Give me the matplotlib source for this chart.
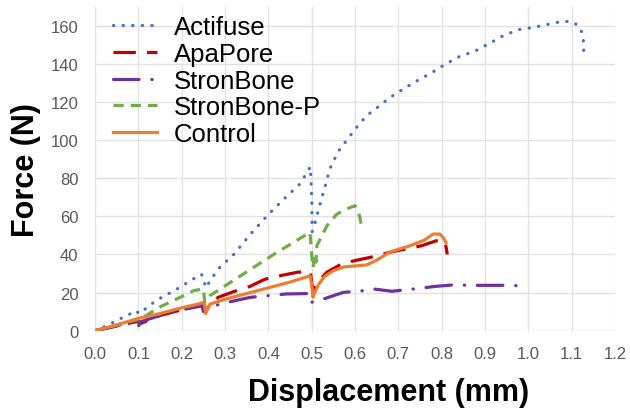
import matplotlib.pyplot as plt

plt.rcParams['font.family'] = ['Liberation Sans', 'DejaVu Sans']

# Force-displacement curves
act_d = [0, 0.03, 0.06, 0.096, 0.1, 0.105, 0.14, 0.19, 0.245, 0.25, 0.255, 0.284, 0.32,
         0.36, 0.4, 0.44, 0.473, 0.497, 0.5, 0.501, 0.505, 0.51, 0.515, 0.53, 0.542, 0.561,
         0.581, 0.604, 0.627, 0.654, 0.681, 0.711, 0.742, 0.777, 0.808, 0.842, 0.877, 0.912,
         0.942, 0.977, 1.012, 1.042, 1.077, 1.1, 1.115, 1.125, 1.128, 1.128]
act_f = [0, 3, 6.5, 10.5, 9, 9.5, 15.7, 22, 29.7, 28, 22.5, 32.4, 40,
         51, 61, 70, 77, 86, 70, 52, 55, 58, 63, 75, 85, 94,
         100, 106.8, 112.9, 117.6, 122.4, 126.8, 131, 135.4, 139.8, 144, 146.7, 151,
         154.8, 158, 159.2, 160.6, 162.3, 162.3, 160.2, 156.2, 151, 146.4]

apa_d = [0, 0.05, 0.1, 0.102, 0.15, 0.2, 0.245, 0.25, 0.255, 0.284, 0.32, 0.358, 0.392,
         0.43, 0.468, 0.497, 0.5, 0.503, 0.508, 0.52, 0.535, 0.569, 0.6, 0.646, 0.685,
         0.72, 0.754, 0.785, 0.8, 0.808, 0.811, 0.813]
apa_f = [0, 2.5, 5, 3.5, 8, 11, 13.5, 12, 11, 17.5, 20.5, 23.3, 27,
         29, 30.7, 31, 25, 21, 23.4, 27, 30.7, 35, 36.8, 39, 41.4,
         43, 44.6, 47, 48, 46, 43, 40]

sb_d = [0, 0.05, 0.097, 0.1, 0.103, 0.15, 0.2, 0.247, 0.25, 0.255, 0.288, 0.358, 0.4,
        0.442, 0.496, 0.5, 0.503, 0.527, 0.573, 0.62, 0.646, 0.685, 0.72, 0.788, 0.825,
        0.868, 0.945, 0.976]
sb_f = [0, 2.5, 5.5, 2, 4.5, 8, 11, 13, 10, 11, 14, 17.5, 18.4,
        19.3, 19.5, 14.9, 15.2, 16.6, 20.1, 21, 21.8, 20.7, 21.5, 23.3, 24,
        23.8, 23.8, 23.6]

sbp_d = [0, 0.05, 0.104, 0.15, 0.212, 0.227, 0.25, 0.253, 0.265, 0.342, 0.419, 0.496,
         0.5, 0.503, 0.507, 0.51, 0.512, 0.535, 0.558, 0.589, 0.6, 0.607, 0.612, 0.614]
sbp_f = [0, 3, 6.1, 12.5, 19.2, 21, 21.9, 15, 18.4, 29.7, 41, 51.6,
         40, 33, 40, 36, 44.6, 55, 61.2, 64.7, 65.6, 63, 58.6, 56]

ctl_d = [0, 0.05, 0.1, 0.15, 0.2, 0.242, 0.252, 0.255, 0.265, 0.3, 0.35, 0.4, 0.45,
         0.496, 0.5, 0.503, 0.505, 0.515, 0.53, 0.55, 0.575, 0.6, 0.627, 0.65, 0.681,
         0.727, 0.76, 0.78, 0.796, 0.803, 0.808, 0.81]
ctl_f = [0, 3, 6.5, 9, 12, 14.2, 15, 9, 13.9, 16.5, 19.5, 22.5, 25.5,
         28.8, 24, 17.6, 19, 24, 28.5, 31.5, 33.5, 34, 34.5, 37, 41.3,
         44.6, 47.5, 50.7, 50.7, 49, 47.2, 46]

x_ticks = [0.0, 0.1, 0.2, 0.3, 0.4, 0.5, 0.6, 0.7, 0.8, 0.9, 1.0, 1.1, 1.2]
y_ticks = [0, 20, 40, 60, 80, 100, 120, 140, 160]

fig = plt.figure(figsize=(6.3, 4.1), dpi=100)
ax = fig.add_axes([0.151, 0.191, 0.825, 0.79])

lw = 2.3
ax.plot(act_d, act_f, color='#4472C4', lw=lw, ls=(0, (0.1, 2.9)),
        dash_capstyle='round', label='Actifuse')
ax.plot(apa_d, apa_f, color='#C00000', lw=lw, ls=(0, (7, 3.5)), label='ApaPore')
ax.plot(sb_d, sb_f, color='#7030A0', lw=lw, ls=(0, (8, 4, 0.1, 4)),
        dash_capstyle='round', label='StronBone')
ax.plot(sbp_d, sbp_f, color='#70AD47', lw=lw, ls=(0, (3.2, 2.2)), label='StronBone-P')
ax.plot(ctl_d, ctl_f, color='#ED7D31', lw=lw, ls='-', label='Control')

ax.set_xlim(0, 1.2)
ax.set_ylim(0, 170)
ax.set_xticks(x_ticks)
ax.set_xticklabels([f'{t:.1f}' for t in x_ticks])
ax.set_yticks(y_ticks)
ax.tick_params(length=0, labelsize=12, labelcolor='#595959')
ax.tick_params(axis='x', pad=11)
ax.tick_params(axis='y', pad=12)
ax.grid(True, color='#E2E2E2', lw=1)
ax.set_axisbelow(True)
for s in ax.spines.values():
    s.set_visible(False)

ax.set_xlabel('Displacement (mm)', fontsize=22, fontweight='bold')
ax.set_ylabel('Force (N)', fontsize=22, fontweight='bold')
ax.xaxis.set_label_coords(0.565, -0.143)
ax.yaxis.set_label_coords(-0.105, 0.5)

leg = ax.legend(loc='upper left', bbox_to_anchor=(0.005, 1.021), frameon=False,
                fontsize=18.5, handlelength=1.7, handletextpad=0.65, labelspacing=0.1,
                borderaxespad=0.2)

fig.savefig('out.png', dpi=100)
